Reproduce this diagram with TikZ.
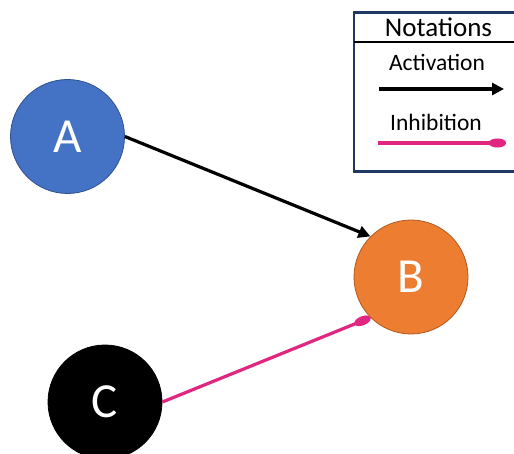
\documentclass[tikz,border=0pt]{standalone}
\usepackage{fontspec}
\setmainfont{Carlito}
\usetikzlibrary{arrows.meta}
\definecolor{nodeA}{HTML}{4472C4}
\definecolor{nodeAline}{HTML}{2F528F}
\definecolor{nodeB}{HTML}{ED7D31}
\definecolor{nodeBline}{HTML}{AE5A21}
\definecolor{inhib}{HTML}{E0267F}
\definecolor{navy}{HTML}{1F3864}
\tikzset{
  gene/.style={circle, minimum size=114pt, inner sep=0pt, text=white,
    font=\fontsize{49}{52}\selectfont, line width=0.8pt},
  act/.style={line width=3.2pt, -{Triangle[length=12pt,width=12pt]}},
  inh/.style={line width=3.2pt, draw=inhib, -{Ellipse[length=17pt,width=9pt]}},
  legtext/.style={font=\fontsize{23.5}{26}\selectfont, inner sep=0pt},
}
\begin{document}
\begin{tikzpicture}[x=1pt,y=-1pt]
\useasboundingbox (0,0) rectangle (514,454);
\clip (0,0) rectangle (514,454);
% nodes
\node[gene, fill=nodeA, draw=nodeAline] (A) at (67.5,136.5) {A};
\node[gene, fill=nodeB, draw=nodeBline] (B) at (411,277) {B};
\node[gene, fill=black, draw=black] (C) at (105,402) {C};
% connectors
\draw[act] (A.east) -- (B.north west);
\draw[inh] (C.east) -- (B.south west);
% legend
\draw[navy, line width=2.5pt] (354,12.5) rectangle (540,171.5);
\coordinate (hl) at (354,42);
\coordinate (hr) at (540,42);
\draw[line width=1.5pt] (hl) -- (hr);
\node[font=\fontsize{27}{30}\selectfont, inner sep=0pt] (nt) at (438.5,27) {Notations};
\node[legtext] (at) at (437,62) {Activation};
\coordinate (a1) at (379,89);
\coordinate (a2) at (504,89);
\draw[act] (a1) -- (a2);
\node[legtext] (it) at (436,122) {Inhibition};
\coordinate (i1) at (378,143);
\coordinate (i2) at (506,143);
\draw[inh] (i1) -- (i2);
\end{tikzpicture}
\end{document}
